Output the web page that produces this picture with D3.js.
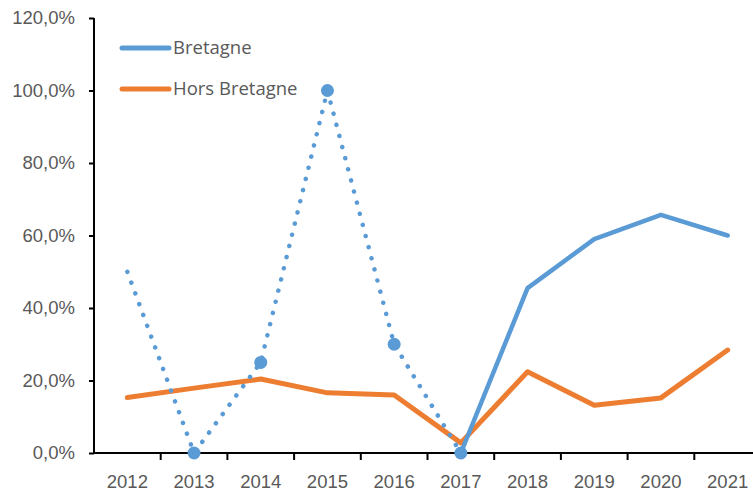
<!DOCTYPE html>
<html>
<head>
<meta charset="utf-8">
<script src="https://cdn.jsdelivr.net/npm/d3@7"></script>
<style>
  body { margin: 0; background: #fff; }
  svg { display: block; font-family: "Open Sans", Lato, sans-serif; }
  .axis path, .axis line { stroke: #000; stroke-width: 2px; }
  .axis text { fill: #595959; font-size: 18.5px; }
</style>
</head>
<body>
<svg id="chart" width="753" height="491"></svg>
<script>
// data
var years = ["2012","2013","2014","2015","2016","2017","2018","2019","2020","2021"];
var bretagne = [0.50, 0.00, 0.25, 1.00, 0.30, 0.00, 0.455, 0.59, 0.657, 0.60];
var horsBretagne = [0.153, 0.179, 0.204, 0.166, 0.160, 0.028, 0.224, 0.132, 0.152, 0.284];
var yTicks = [0, 0.2, 0.4, 0.6, 0.8, 1.0, 1.2];
var seriesNames = ["Bretagne", "Hors Bretagne"];
// first 6 years of Bretagne drawn dotted, rest solid
var dottedUntil = 5;

var svg = d3.select("#chart");
var blue = "#5B9BD5", orange = "#ED7D31";

var x = d3.scaleBand().domain(years).range([94, 761]).padding(0);
var y = d3.scaleLinear().domain([0, 1.2]).range([453, 18]);
var cx = function(i) { return x(years[i]) + x.bandwidth() / 2; };

var fmt = function(d) { return d3.format(".1f")(d * 100).replace(".", ",") + "%"; };

// y axis
var yAxis = svg.append("g")
	.attr("class", "axis")
	.attr("transform", "translate(94,0)")
	.call(d3.axisLeft(y).tickValues(yTicks).tickFormat(fmt).tickSize(5).tickPadding(14).tickSizeOuter(0));
yAxis.select(".domain").attr("d", "M0," + y(1.2) + "V" + y(0));

// x axis
var xAxis = svg.append("g")
	.attr("class", "axis")
	.attr("transform", "translate(0," + y(0) + ")")
	.call(d3.axisBottom(x).tickSize(0).tickPadding(22));
xAxis.select(".domain").attr("d", "M93,0H761");
xAxis.selectAll(".edge")
	.data(years.slice(1))
	.enter().append("line")
	.attr("class", "edge")
	.attr("x1", function(d) { return x(d); })
	.attr("x2", function(d) { return x(d); })
	.attr("y1", 0)
	.attr("y2", 7);

var line = d3.line()
	.x(function(d) { return cx(d.i); })
	.y(function(d) { return y(d.v); });

var bre = bretagne.map(function(v, i) { return {i: i, v: v}; });
var hors = horsBretagne.map(function(v, i) { return {i: i, v: v}; });

// orange series
svg.append("path")
	.attr("d", line(hors))
	.attr("fill", "none")
	.attr("stroke", orange)
	.attr("stroke-width", 5)
	.attr("stroke-linejoin", "round")
	.attr("stroke-linecap", "round");

// blue dotted part
svg.append("path")
	.attr("d", line(bre.slice(0, dottedUntil + 1)))
	.attr("fill", "none")
	.attr("stroke", blue)
	.attr("stroke-width", 4.5)
	.attr("stroke-linecap", "round")
	.attr("stroke-dasharray", "0.1,11.4");

// blue solid part
svg.append("path")
	.attr("d", line(bre.slice(dottedUntil)))
	.attr("fill", "none")
	.attr("stroke", blue)
	.attr("stroke-width", 4.5)
	.attr("stroke-linejoin", "round")
	.attr("stroke-linecap", "round");

// markers on dotted part
svg.selectAll(".mark")
	.data(bre.slice(1, dottedUntil + 1))
	.enter().append("circle")
	.attr("class", "mark")
	.attr("cx", function(d) { return cx(d.i); })
	.attr("cy", function(d) { return y(d.v); })
	.attr("r", 6.5)
	.attr("fill", blue);

// legend
var legend = svg.selectAll(".legend")
	.data(seriesNames)
	.enter().append("g")
	.attr("class", "legend")
	.attr("transform", function(d, i) { return "translate(122," + (48 + i * 41) + ")"; });
legend.append("line")
	.attr("x1", 0).attr("x2", 47)
	.attr("stroke", function(d, i) { return i ? orange : blue; })
	.attr("stroke-width", 5)
	.attr("stroke-linecap", "round");
legend.append("text")
	.attr("x", 51)
	.attr("dy", "0.35em")
	.attr("fill", "#595959")
	.attr("font-size", 18.5)
	.text(function(d) { return d; });
</script>
</body>
</html>
